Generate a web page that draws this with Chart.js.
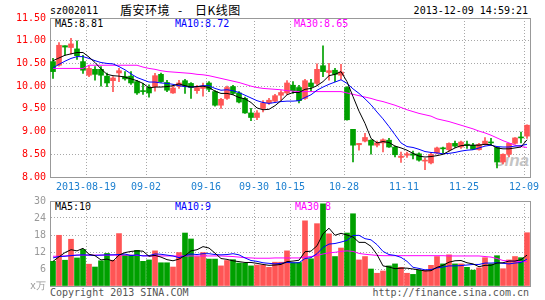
<!DOCTYPE html>
<html><head><meta charset="utf-8">
<script src="https://cdn.jsdelivr.net/npm/chart.js@4"></script>
<style>
body{margin:0;background:#fff;}
#wrap{position:relative;width:545px;height:300px;overflow:hidden;background:#fff;}
canvas{position:absolute;left:0;z-index:2;}
.t{position:absolute;z-index:1;white-space:pre;font-family:"DejaVu Sans Mono",monospace;font-size:10px;line-height:12px;}
.cn{font-family:'Noto Sans CJK SC',sans-serif;font-size:12px;line-height:16px;color:#000;}
</style></head><body>
<div id="wrap">
<canvas id="pc" width="545" height="196" style="top:0;width:545px;height:196px"></canvas>
<canvas id="vc" width="545" height="104" style="top:196px;width:545px;height:104px"></canvas>
<div class="t" style="left:50px;top:5px;color:#000">sz002011</div>
<div class="t cn" style="left:120px;top:2px;letter-spacing:0.5px">盾安环境</div>
<div class="t cn" style="left:178px;top:2px">-</div>
<div class="t cn" style="left:195px;top:2px;letter-spacing:0.5px">日K线图</div>
<div class="t" style="right:17px;top:5px;color:#000">2013-12-09 14:59:21</div>
<div class="t" style="left:55px;top:18px;color:#000">MA5:8.81</div>
<div class="t" style="left:175px;top:18px;color:#0000ff">MA10:8.72</div>
<div class="t" style="left:294px;top:18px;color:#ff00ff">MA30:8.65</div>
<div class="t" style="left:55px;top:201px;color:#000">MA5:10</div>
<div class="t" style="left:175px;top:201px;color:#0000ff">MA10:9</div>
<div class="t" style="left:295px;top:201px;color:#ff00ff">MA30:8</div>
<div class="t" style="left:50px;top:287px;color:#555">Copyright 2013 SINA.COM</div>
<div class="t" style="right:16px;top:287px;color:#555">http://finance.sina.com.cn</div>
<div class="t" style="left:495px;top:151px;color:#c4c4c4;font-family:'Liberation Sans',sans-serif;font-size:17px;line-height:20px;font-style:italic;font-weight:bold">sina</div>
</div>
<script>
const dates = ['2013-08-09','2013-08-12','2013-08-13','2013-08-14','2013-08-15','2013-08-16',
'2013-08-19','2013-08-20','2013-08-21','2013-08-22','2013-08-23',
'2013-08-26','2013-08-27','2013-08-28','2013-08-29','2013-08-30',
'2013-09-02','2013-09-03','2013-09-04','2013-09-05','2013-09-06',
'2013-09-09','2013-09-10','2013-09-11','2013-09-12','2013-09-13',
'2013-09-16','2013-09-17','2013-09-18',
'2013-09-23','2013-09-24','2013-09-25','2013-09-26','2013-09-27',
'2013-09-30','2013-10-08','2013-10-09','2013-10-10','2013-10-11','2013-10-14',
'2013-10-15','2013-10-16','2013-10-17','2013-10-18',
'2013-10-21','2013-10-22','2013-10-23','2013-10-24','2013-10-25',
'2013-10-28','2013-10-29','2013-10-30','2013-10-31','2013-11-01',
'2013-11-04','2013-11-05','2013-11-06','2013-11-07','2013-11-08',
'2013-11-11','2013-11-12','2013-11-13','2013-11-14','2013-11-15',
'2013-11-18','2013-11-19','2013-11-20','2013-11-21','2013-11-22',
'2013-11-25','2013-11-26','2013-11-27','2013-11-28','2013-11-29',
'2013-12-02','2013-12-03','2013-12-04','2013-12-05','2013-12-06',
'2013-12-09'];

const axisDates = ['2013-08-19','2013-09-02','2013-09-16','2013-09-30','2013-10-15','2013-10-28','2013-11-11','2013-11-25','2013-12-09'];
const priceTicks = [8.00, 8.50, 9.00, 9.50, 10.00, 10.50, 11.00, 11.50];
const volumeTicks = [0, 6, 12, 18, 24, 30];

const opens = [10.54,10.46,10.89,10.85,10.82,10.54,10.24,10.37,10.37,10.22,
10.12,10.29,10.21,10.22,10.10,9.90,9.97,9.99,10.26,10.08,
9.85,10.00,10.12,10.06,9.90,9.95,10.07,9.88,9.58,9.73,
9.99,9.85,9.73,9.41,9.31,9.51,9.63,9.67,9.80,9.85,
10.02,9.97,9.73,10.07,10.06,10.45,10.30,10.35,10.24,9.97,
9.05,8.71,8.79,8.81,8.70,8.75,8.81,8.66,8.43,8.48,
8.51,8.51,8.35,8.31,8.53,8.63,8.60,8.74,8.66,8.71,
8.70,8.60,8.72,8.76,8.65,8.33,8.50,8.74,8.87,8.90];
const highs = [10.61,10.96,10.89,11.05,11.00,10.68,10.44,10.43,10.43,10.29,
10.21,10.39,10.32,10.32,10.13,10.06,10.03,10.28,10.29,10.13,
10.02,10.13,10.15,10.08,10.02,10.07,10.10,9.90,9.73,10.00,
10.02,9.88,9.76,9.51,9.46,9.68,9.73,9.82,9.90,10.12,
10.10,10.02,10.15,10.15,10.49,10.89,10.50,10.39,10.48,9.99,
9.05,8.74,8.96,8.82,8.79,8.84,8.85,8.68,8.55,8.55,
8.57,8.53,8.41,8.53,8.66,8.66,8.75,8.79,8.79,8.79,
8.74,8.74,8.87,8.85,8.65,8.51,8.74,8.87,8.99,9.15];
const lows = [10.17,10.44,10.68,10.71,10.59,10.28,10.21,10.13,10.00,9.99,
9.88,10.10,10.13,10.04,9.82,9.82,9.76,9.89,10.08,9.88,
9.84,9.95,9.84,9.73,9.84,9.78,9.88,9.56,9.51,9.71,
9.82,9.63,9.40,9.24,9.26,9.43,9.60,9.65,9.69,9.82,
9.84,9.63,9.71,9.89,10.02,10.21,10.13,10.10,10.15,9.25,
8.33,8.59,8.77,8.50,8.66,8.55,8.65,8.44,8.32,8.43,
8.40,8.35,8.16,8.29,8.51,8.53,8.57,8.65,8.63,8.63,
8.60,8.59,8.70,8.70,8.20,8.29,8.44,8.72,8.75,8.85];
const closes = [10.32,10.90,10.86,10.93,10.67,10.35,10.39,10.26,10.24,10.07,
10.18,10.34,10.16,10.07,9.85,9.88,9.85,10.23,10.10,9.91,
9.96,10.07,10.00,9.97,9.97,10.00,9.93,9.58,9.71,9.97,
9.84,9.65,9.41,9.31,9.41,9.63,9.69,9.79,9.86,10.07,
9.90,9.68,10.12,9.99,10.37,10.32,10.34,10.26,10.31,9.26,
8.70,8.74,8.87,8.70,8.75,8.82,8.66,8.49,8.46,8.51,
8.48,8.37,8.37,8.50,8.64,8.62,8.74,8.68,8.77,8.70,
8.61,8.72,8.79,8.75,8.33,8.50,8.74,8.86,8.86,9.14];

const ma5 = [10.56,10.62,10.68,10.71,10.74,10.74,10.64,10.52,10.38,10.26,
10.23,10.22,10.20,10.16,10.12,10.06,9.96,9.98,9.98,9.99,
10.01,10.05,10.01,9.98,9.99,10.00,9.97,9.89,9.84,9.84,
9.81,9.75,9.72,9.64,9.52,9.48,9.49,9.57,9.68,9.81,
9.86,9.86,9.93,9.95,10.01,10.10,10.23,10.26,10.32,10.10,
9.77,9.45,9.18,8.85,8.75,8.78,8.76,8.68,8.64,8.59,
8.52,8.46,8.44,8.45,8.47,8.50,8.57,8.64,8.69,8.70,
8.70,8.70,8.72,8.71,8.64,8.62,8.62,8.64,8.66,8.82];
const ma10 = [10.40,10.48,10.55,10.61,10.65,10.65,10.61,10.56,10.52,10.50,
10.49,10.43,10.36,10.27,10.19,10.14,10.09,10.09,10.07,10.06,
10.04,10.01,9.99,9.98,9.99,10.01,10.01,9.95,9.91,9.92,
9.90,9.86,9.80,9.74,9.68,9.64,9.62,9.64,9.66,9.67,
9.67,9.68,9.75,9.81,9.91,9.98,10.04,10.09,10.14,10.06,
9.94,9.84,9.72,9.59,9.43,9.28,9.11,8.93,8.75,8.67,
8.65,8.61,8.56,8.54,8.53,8.51,8.52,8.54,8.57,8.59,
8.60,8.64,8.68,8.70,8.67,8.66,8.66,8.68,8.69,8.72];
const ma30 = [10.39,10.39,10.39,10.39,10.39,10.39,10.46,10.46,10.46,10.46,
10.46,10.46,10.46,10.46,10.46,10.42,10.39,10.37,10.34,10.32,
10.31,10.30,10.29,10.28,10.26,10.25,10.23,10.20,10.17,10.14,
10.11,10.08,10.04,10.00,9.97,9.95,9.94,9.93,9.92,9.90,
9.89,9.88,9.88,9.88,9.88,9.88,9.88,9.88,9.88,9.85,
9.82,9.79,9.76,9.73,9.69,9.66,9.62,9.58,9.53,9.48,
9.44,9.40,9.37,9.34,9.28,9.25,9.22,9.18,9.14,9.10,
9.06,9.01,8.97,8.92,8.86,8.80,8.75,8.70,8.67,8.65];

const volumes = [8.7,17.9,9.1,16.5,9.9,12.9,7.7,6.7,8.9,11.5,
9.1,18.5,10.9,10.9,12.6,8.7,9.2,12.4,8.2,8.2,
6.7,11.8,18.7,16.6,10.4,11.8,9.5,9.5,7.1,9.0,
9.3,8.1,8.0,7.1,7.4,7.4,6.6,8.4,8.4,12.4,
8.2,8.3,23.0,9.6,22.0,29.0,18.4,10.4,13.4,18.7,
25.5,9.2,10.4,6.0,4.5,5.3,7.1,7.8,6.6,4.5,
4.1,5.6,5.6,7.3,10.4,7.8,11.0,7.8,7.8,6.6,
5.6,6.4,10.0,7.8,10.7,6.1,9.2,10.4,10.0,18.8];
const vma5 = [8.7,10.3,11.8,12.8,12.4,13.3,11.2,10.7,9.2,9.5,
8.8,10.9,11.8,12.2,12.4,12.3,10.5,10.8,10.2,9.3,
8.9,9.5,10.7,12.4,12.8,13.9,13.4,11.6,9.7,9.4,
8.9,8.6,8.3,8.3,8.0,7.6,7.3,7.4,7.6,8.6,
8.8,9.1,12.1,12.3,14.2,18.4,20.4,17.9,18.6,18.0,
17.3,15.4,15.4,14.0,11.1,7.1,6.7,6.1,6.3,6.3,
6.0,5.7,5.3,5.4,6.6,7.3,8.4,8.9,9.0,8.2,
7.8,6.8,7.3,7.3,8.1,8.2,8.8,8.8,9.3,10.9];
const vma10 = [9.9,10.4,10.5,10.7,10.9,11.0,10.9,10.8,10.9,11.0,
11.0,11.1,11.3,10.7,11.0,10.6,10.7,11.3,11.2,10.9,
10.6,10.0,10.7,11.3,11.1,11.4,11.4,11.1,11.0,11.1,
11.4,11.0,9.9,9.0,8.7,8.2,8.0,7.8,8.0,8.3,
8.2,8.2,9.7,10.0,11.4,13.6,14.8,15.0,15.5,16.1,
17.8,17.9,16.7,16.3,14.6,12.2,11.1,10.8,10.1,8.7,
6.6,6.2,5.7,5.8,6.4,6.7,7.1,7.1,7.2,7.4,
7.6,7.6,8.1,8.1,8.2,8.0,7.8,8.1,8.3,9.5];
const vma30 = [10.5,10.5,10.6,10.8,10.9,10.9,10.9,10.9,10.9,10.9,
10.9,10.9,10.9,10.9,10.8,10.7,10.6,10.6,10.6,10.6,
10.6,10.6,10.6,10.6,10.6,10.6,10.6,10.6,10.6,10.5,
10.4,10.2,10.0,9.9,9.8,9.8,9.8,9.9,9.9,9.9,
9.9,9.9,10.2,10.4,10.8,11.3,11.7,11.9,12.2,12.4,
12.2,11.5,11.2,11.0,10.8,10.7,10.7,10.7,10.7,10.7,
10.7,10.7,10.7,10.7,10.7,10.7,10.6,10.6,10.6,10.6,
10.6,10.6,10.4,10.2,9.7,9.0,8.8,8.7,8.6,8.6];

Chart.defaults.font.family = '"DejaVu Sans Mono", monospace';
Chart.defaults.font.size = 10;
Chart.defaults.animation = false;
Chart.defaults.plugins.legend.display = false;
Chart.defaults.plugins.tooltip.enabled = false;

const RED = '#ff5555', GREEN = '#00a000';
const GRID = '#a8a8a8', BORDER = '#999999';
const candleColors = closes.map((c, i) => c >= opens[i] ? RED : GREEN);
const tickIdx = axisDates.map(d => dates.indexOf(d));

function noPad(s) { s.paddingLeft = 0; s.paddingRight = 0; s.paddingTop = 0; s.paddingBottom = 0; }

function xScales(showLabels, axisHeight) {
  return {
    x: {
      type: 'category', labels: dates, offset: true,
      grid: { offset: true, drawTicks: false, lineWidth: 1,
        color: c => tickIdx.includes(c.index) ? GRID : 'rgba(0,0,0,0)' },
      border: { display: true, color: BORDER, dash: [1, 2] },
      ticks: { display: showLabels, autoSkip: false, maxRotation: 0, padding: 4, labelOffset: -3,
        color: '#1e80d0',
        callback: (v, i) => tickIdx.includes(i) ? (i === tickIdx[0] ? dates[i] : dates[i].slice(5)) : '' },
      afterFit: s => { s.height = axisHeight; noPad(s); }
    },
    x2: {
      type: 'category', labels: dates, offset: true, position: 'top',
      grid: { display: false, drawTicks: false },
      border: { display: true, color: BORDER },
      ticks: { display: false },
      afterFit: s => { s.height = 0; noPad(s); }
    }
  };
}

function yScales(min, max, step, color, cb) {
  return {
    y: {
      min: min, max: max, position: 'left',
      grid: { drawTicks: false, color: GRID, lineWidth: 1 },
      border: { display: true, color: BORDER, dash: [1, 2] },
      ticks: { stepSize: step, padding: 4, color: color, callback: cb },
      afterFit: s => { s.width = 50; noPad(s); }
    },
    y2: {
      min: min, max: max, position: 'right',
      grid: { display: false, drawTicks: false },
      border: { display: true, color: BORDER },
      ticks: { display: false },
      afterFit: s => { s.width = 0; noPad(s); }
    }
  };
}

function lineDs(data, color) {
  return { type: 'line', data: data, borderColor: color, borderWidth: 1, pointRadius: 0,
    fill: false, tension: 0, order: 0 };
}

new Chart(document.getElementById('pc'), {
  type: 'bar',
  data: {
    labels: dates,
    datasets: [
      lineDs(ma5, '#000000'),
      lineDs(ma10, '#0000ff'),
      lineDs(ma30, '#ff00ff'),
      { data: lows.map((l, i) => [l, highs[i]]), backgroundColor: candleColors,
        barThickness: 1, grouped: false, order: 2, minBarLength: 1 },
      { data: opens.map((o, i) => [Math.min(o, closes[i]), Math.max(o, closes[i])]),
        backgroundColor: candleColors, barThickness: 5, grouped: false, order: 1, minBarLength: 1 }
    ]
  },
  options: {
    responsive: false,
    layout: { padding: { top: 18, right: 15, left: 0, bottom: 0 } },
    scales: Object.assign(xScales(true, 19),
      yScales(priceTicks[0], priceTicks[priceTicks.length - 1], 0.5, '#ff0000', v => Number(v).toFixed(2)))
  }
});

new Chart(document.getElementById('vc'), {
  type: 'bar',
  data: {
    labels: dates,
    datasets: [
      lineDs(vma5, '#000000'),
      lineDs(vma10, '#0000ff'),
      lineDs(vma30, '#ff00ff'),
      { data: volumes, backgroundColor: candleColors, barThickness: 5, grouped: false, order: 1 }
    ]
  },
  options: {
    responsive: false,
    layout: { padding: { top: 5, right: 15, left: 0, bottom: 0 } },
    scales: Object.assign(xScales(false, 14),
      yScales(volumeTicks[0], volumeTicks[volumeTicks.length - 1], 6, '#999999', v => v === 0 ? 'x万' : v))
  }
});
</script>
</body></html>
